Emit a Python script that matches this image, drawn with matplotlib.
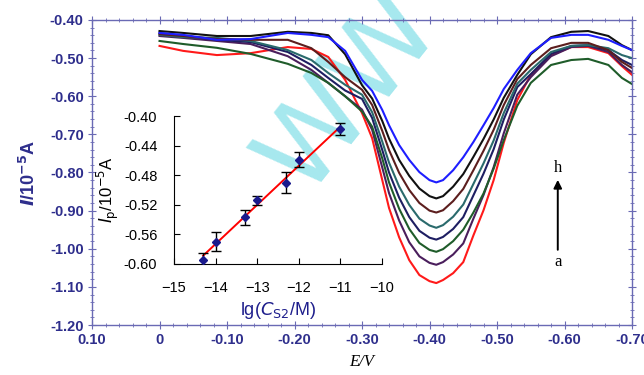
"""
Stripping voltammograms a-h with calibration inset
"""

import numpy as np
import matplotlib.pyplot as plt
from matplotlib.ticker import MultipleLocator, FixedLocator

# potential grid (V), shared by all curves
E = [0.00, -0.035, -0.085, -0.135, -0.19, -0.225, -0.25, -0.275, -0.30, -0.315,
     -0.33, -0.34, -0.355, -0.37, -0.385, -0.40, -0.41, -0.42, -0.435, -0.45,
     -0.465, -0.48, -0.495, -0.51, -0.53, -0.55, -0.58, -0.61, -0.635, -0.665,
     -0.685, -0.70]

# currents (1e-5 A), curve a (lowest peak) ... h (highest peak)
I_a = [-0.468, -0.481, -0.492, -0.487, -0.471, -0.476, -0.497, -0.557, -0.644, -0.710,
       -0.820, -0.893, -0.970, -1.030, -1.069, -1.085, -1.090, -1.082, -1.064, -1.035,
       -0.965, -0.899, -0.820, -0.722, -0.610, -0.544, -0.492, -0.471, -0.471, -0.487,
       -0.521, -0.544]
I_b = [-0.442, -0.447, -0.455, -0.463, -0.495, -0.531, -0.565, -0.600, -0.635, -0.688,
       -0.787, -0.854, -0.926, -0.983, -1.020, -1.037, -1.042, -1.035, -1.015, -0.986,
       -0.921, -0.859, -0.786, -0.697, -0.596, -0.550, -0.495, -0.471, -0.468, -0.484,
       -0.518, -0.537]
I_c = [-0.455, -0.463, -0.473, -0.489, -0.515, -0.539, -0.565, -0.600, -0.640, -0.680,
       -0.763, -0.826, -0.895, -0.948, -0.985, -1.003, -1.008, -1.001, -0.980, -0.950,
       -0.905, -0.855, -0.790, -0.715, -0.625, -0.565, -0.518, -0.505, -0.502, -0.518,
       -0.552, -0.568]
I_d = [-0.434, -0.442, -0.452, -0.458, -0.484, -0.518, -0.552, -0.585, -0.607, -0.657,
       -0.741, -0.800, -0.866, -0.917, -0.953, -0.971, -0.976, -0.969, -0.948, -0.917,
       -0.860, -0.803, -0.739, -0.661, -0.576, -0.542, -0.489, -0.468, -0.466, -0.479,
       -0.505, -0.518]
I_e = [-0.439, -0.445, -0.447, -0.455, -0.479, -0.505, -0.539, -0.570, -0.596, -0.642,
       -0.719, -0.774, -0.837, -0.885, -0.921, -0.939, -0.945, -0.938, -0.916, -0.884,
       -0.830, -0.776, -0.716, -0.644, -0.567, -0.531, -0.484, -0.468, -0.466, -0.474,
       -0.492, -0.500]
I_f = [-0.437, -0.442, -0.450, -0.452, -0.452, -0.474, -0.510, -0.550, -0.583, -0.623,
       -0.691, -0.741, -0.801, -0.846, -0.880, -0.900, -0.905, -0.899, -0.875, -0.843,
       -0.794, -0.743, -0.688, -0.623, -0.555, -0.518, -0.474, -0.460, -0.460, -0.479,
       -0.510, -0.526]
I_g = [-0.429, -0.434, -0.442, -0.442, -0.431, -0.434, -0.440, -0.490, -0.571, -0.606,
       -0.665, -0.711, -0.767, -0.809, -0.842, -0.862, -0.868, -0.862, -0.837, -0.804,
       -0.759, -0.712, -0.661, -0.604, -0.544, -0.490, -0.445, -0.431, -0.429, -0.442,
       -0.466, -0.479]
I_h = [-0.434, -0.439, -0.452, -0.450, -0.434, -0.439, -0.445, -0.481, -0.557, -0.586,
       -0.636, -0.676, -0.728, -0.767, -0.799, -0.820, -0.826, -0.820, -0.794, -0.760,
       -0.720, -0.676, -0.631, -0.581, -0.531, -0.487, -0.447, -0.439, -0.439, -0.452,
       -0.468, -0.479]

curves = [I_a, I_b, I_c, I_d, I_e, I_f, I_g, I_h]
curve_colors = ['#ff1a1a', '#4a1e5c', '#1f5c2a', '#1e1e62', '#2a6a6c', '#5c1e1e',
                '#111111', '#1e1eff']

# inset calibration data
lgC = [-14.3, -14.0, -13.3, -13.0, -12.3, -12.0, -11.0]
Ip = [-0.594, -0.570, -0.537, -0.514, -0.490, -0.459, -0.418]
Ip_err = [0.009, 0.013, 0.010, 0.006, 0.014, 0.010, 0.008]

navy = '#2e2e8c'
spine_col = '#6a6ab4'

fig = plt.figure(figsize=(6.44, 3.75), dpi=100)
ax = fig.add_axes([0.1429, 0.1333, 0.8385, 0.8134])

# watermark
ax.text(0.478, 0.76, 'WW', transform=ax.transAxes, fontsize=80, color='#a6e8ee',
        rotation=51.5, ha='center', va='center', zorder=0.5, family='DejaVu Sans')

for I, c in zip(curves, curve_colors):
    ax.plot(E, I, color=c, lw=1.5, solid_joinstyle='round', zorder=2)

ax.set_xlim(0.10, -0.70)
ax.set_ylim(-1.20, -0.40)
xt = np.arange(0.10, -0.71, -0.10)
yt = np.arange(-1.20, -0.39, 0.10)
ax.xaxis.set_major_locator(FixedLocator(xt))
ax.xaxis.set_minor_locator(MultipleLocator(0.02))
ax.yaxis.set_major_locator(FixedLocator(yt))
ax.yaxis.set_minor_locator(MultipleLocator(0.02))
ax.set_xticklabels(['0' if abs(v) < 1e-9 else '%.2f' % v for v in xt])
ax.set_yticklabels(['%.2f' % v for v in yt])

for s in ax.spines.values():
    s.set_color(spine_col)
    s.set_linewidth(1.0)
ax.tick_params(which='both', direction='inout', color=spine_col, top=True, right=True,
               labelcolor=navy, labelsize=10.5, pad=3)
ax.tick_params(which='major', length=6)
ax.tick_params(which='minor', length=3)
for lab in ax.get_xticklabels() + ax.get_yticklabels():
    lab.set_fontweight('bold')
    lab.set_family('Liberation Sans')

ax.set_ylabel(r'$\boldsymbol{I}$/10$^{\mathbf{-5}}$A', fontsize=13, color=navy,
              fontweight='bold', family='Liberation Sans', labelpad=8)
ax.set_xlabel('E/V', fontsize=12, style='italic', family='Liberation Serif',
              labelpad=5)

# a -> h arrow
ax.annotate('', xy=(-0.590, -0.812), xytext=(-0.590, -1.010),
            arrowprops=dict(arrowstyle='-|>', color='black', lw=1.4, mutation_scale=12))
ax.text(-0.590, -0.788, 'h', ha='center', va='center', fontsize=12,
        family='Liberation Serif')
ax.text(-0.590, -1.035, 'a', ha='center', va='center', fontsize=12,
        family='Liberation Serif')

# inset
ins = fig.add_axes([0.2702, 0.2960, 0.3230, 0.3946])
ins.patch.set_alpha(0)
ins.errorbar(lgC, Ip, yerr=Ip_err, fmt='D', color='#1a1a8c', ms=4, ecolor='black',
             elinewidth=1, capsize=3.5, capthick=1, zorder=3)
k, b = np.polyfit(lgC, Ip, 1)
xf = np.array([min(lgC), max(lgC)])
ins.plot(xf, k * xf + b, color='#ff0000', lw=1.4, zorder=2)
ins.set_xlim(-15, -10)
ins.set_ylim(-0.60, -0.40)
ins.set_xticks(np.arange(-15, -9, 1))
yti = np.arange(-0.60, -0.39, 0.04)
ins.set_yticks(yti)
ins.set_yticklabels(['%.2f' % v for v in yti])
ins.spines['top'].set_visible(False)
ins.spines['right'].set_visible(False)
ins.tick_params(direction='in', length=4, labelsize=10.5, pad=12)
for lab in ins.get_xticklabels() + ins.get_yticklabels():
    lab.set_family('Liberation Sans')
ins.set_ylabel(r'$I_{\mathrm{p}}$/10$^{-5}$A', fontsize=12, family='Liberation Sans',
               labelpad=2)
ins.set_xlabel(r'lg($C_{\mathrm{S2}}$/M)', fontsize=13, color='#1e1e8c',
               family='Liberation Sans', labelpad=4)

fig.savefig('out.png', dpi=100)
